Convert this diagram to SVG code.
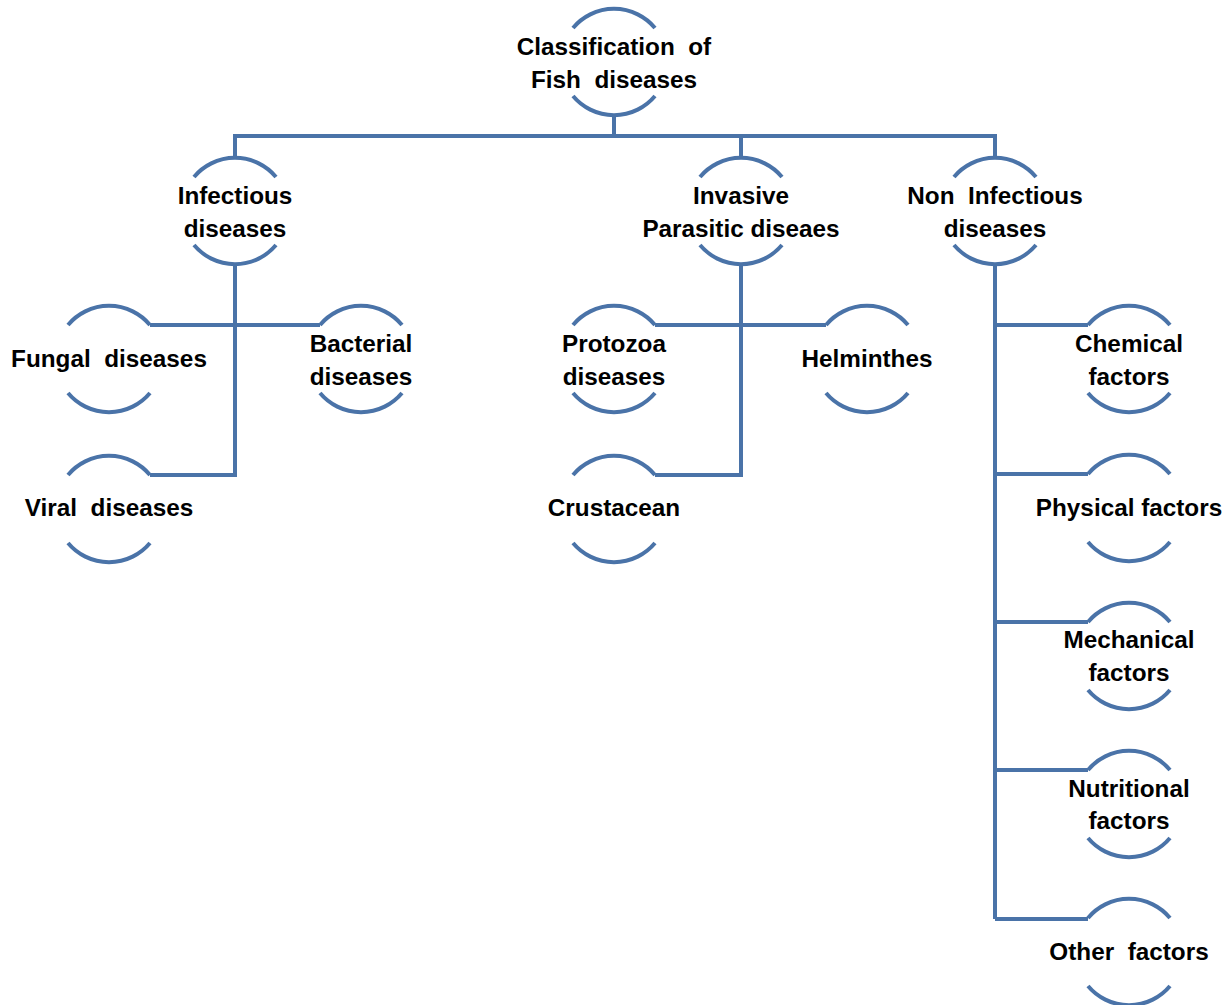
<svg xmlns="http://www.w3.org/2000/svg" xmlns:xlink="http://www.w3.org/1999/xlink" width="1232" height="1005" viewBox="0 0 1232 1005" xml:space="preserve">
<style>
.ln{fill:none;stroke:#4A73A8;stroke-width:4}
.arc{fill:none;stroke:#4A73A8;stroke-width:4}
text{font-family:"Liberation Sans",Arial,sans-serif;font-weight:bold;font-size:24.3px;fill:#000;text-anchor:middle;white-space:pre}
</style>
<defs>
<path id="arcs" class="arc" d="M-41 -34 A53.5 53.5 0 0 1 41 -34 M-41 34 A53.5 53.5 0 0 0 41 34"/>
</defs>
<rect width="1232" height="1005" fill="#fff"/>
<g id="connectors" class="ln">
<path d="M614 115 V136"/>
<path d="M235 158 V136 H995 V158"/>
<path d="M741 136 V158"/>
<path d="M235 265 V475 H150"/>
<path d="M150 325 H320"/>
<path d="M741 265 V475 H655"/>
<path d="M655 325 H826"/>
<path d="M995 265 V919"/>
<path d="M995 325 H1088"/>
<path d="M995 474 H1088"/>
<path d="M995 622 H1088"/>
<path d="M995 770 H1088"/>
<path d="M995 919 H1088"/>
</g>
<g id="n-top"><use xlink:href="#arcs" href="#arcs" x="614" y="62"/><text x="614" y="55">Classification  of</text><text x="614" y="88">Fish  diseases</text></g>
<g id="n-infectious"><use xlink:href="#arcs" href="#arcs" x="235" y="211"/><text x="235" y="204">Infectious</text><text x="235" y="237">diseases</text></g>
<g id="n-invasive"><use xlink:href="#arcs" href="#arcs" x="741" y="211"/><text x="741" y="204">Invasive</text><text x="741" y="237">Parasitic diseaes</text></g>
<g id="n-noninfectious"><use xlink:href="#arcs" href="#arcs" x="995" y="211"/><text x="995" y="204">Non  Infectious</text><text x="995" y="237">diseases</text></g>
<g id="n-fungal"><use xlink:href="#arcs" href="#arcs" x="109" y="359"/><text x="109" y="367">Fungal  diseases</text></g>
<g id="n-bacterial"><use xlink:href="#arcs" href="#arcs" x="361" y="359"/><text x="361" y="352">Bacterial</text><text x="361" y="385">diseases</text></g>
<g id="n-viral"><use xlink:href="#arcs" href="#arcs" x="109" y="509"/><text x="109" y="516">Viral  diseases</text></g>
<g id="n-protozoa"><use xlink:href="#arcs" href="#arcs" x="614" y="359"/><text x="614" y="352">Protozoa</text><text x="614" y="385">diseases</text></g>
<g id="n-helminthes"><use xlink:href="#arcs" href="#arcs" x="867" y="359"/><text x="867" y="367">Helminthes</text></g>
<g id="n-crustacean"><use xlink:href="#arcs" href="#arcs" x="614" y="509"/><text x="614" y="516">Crustacean</text></g>
<g id="n-chemical"><use xlink:href="#arcs" href="#arcs" x="1129" y="359"/><text x="1129" y="352">Chemical</text><text x="1129" y="385">factors</text></g>
<g id="n-physical"><use xlink:href="#arcs" href="#arcs" x="1129" y="508"/><text x="1129" y="516">Physical factors</text></g>
<g id="n-mechanical"><use xlink:href="#arcs" href="#arcs" x="1129" y="656"/><text x="1129" y="648">Mechanical</text><text x="1129" y="681">factors</text></g>
<g id="n-nutritional"><use xlink:href="#arcs" href="#arcs" x="1129" y="804"/><text x="1129" y="797">Nutritional</text><text x="1129" y="829">factors</text></g>
<g id="n-other"><use xlink:href="#arcs" href="#arcs" x="1129" y="952"/><text x="1129" y="960">Other  factors</text></g>
</svg>
